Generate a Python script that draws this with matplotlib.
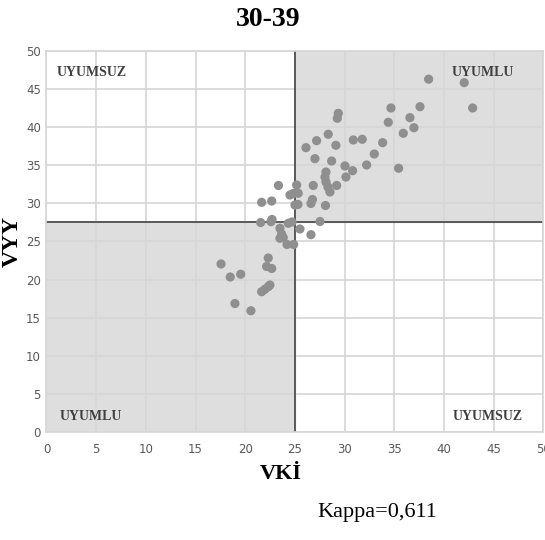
import matplotlib.pyplot as plt
from matplotlib.patches import Rectangle

# VKİ ve VYY değerleri (30-39 yaş grubu)
vki = [38.45, 42.03, 42.88, 34.66, 37.58, 36.57, 34.39, 36.97, 35.90, 33.82,
       32.98, 32.21, 30.87, 31.77, 30.03, 30.80, 30.13, 35.43, 29.36, 29.26,
       28.35, 27.18, 26.11, 29.12, 27.01, 28.69, 28.12, 28.02, 28.12, 28.32,
       28.52, 29.20, 26.84, 25.17, 23.34, 24.50, 24.83, 25.33, 26.76, 26.61,
       21.65, 22.66, 25.00, 25.30, 28.07, 21.55, 22.59, 22.69, 24.33, 24.70,
       27.52, 23.49, 23.66, 23.82, 23.49, 25.50, 26.61, 24.20, 24.87, 22.31,
       17.56, 18.49, 19.54, 22.15, 22.66, 21.65, 21.98, 22.33, 22.48, 18.96,
       20.57]
vyy = [46.30, 45.84, 42.52, 42.52, 42.69, 41.25, 40.64, 39.93, 39.20, 37.97,
       36.48, 35.04, 38.32, 38.41, 34.91, 34.29, 33.46, 34.61, 41.82, 41.17,
       39.07, 38.23, 37.31, 37.62, 35.87, 35.56, 34.12, 33.46, 32.81, 32.15,
       31.50, 32.35, 32.35, 32.41, 32.35, 31.10, 31.30, 31.33, 30.51, 29.99,
       30.14, 30.31, 29.79, 29.86, 29.72, 27.49, 27.60, 27.89, 27.39, 27.56,
       27.62, 26.73, 25.98, 25.52, 25.42, 26.64, 25.89, 24.61, 24.61, 22.83,
       22.05, 20.34, 20.70, 21.72, 21.46, 18.41, 18.73, 19.09, 19.29, 16.86,
       15.91]

vki_esik = 25
vyy_esik = 27.6
ticks = [0, 5, 10, 15, 20, 25, 30, 35, 40, 45, 50]

serif = ['Liberation Serif', 'DejaVu Serif']

fig = plt.figure(figsize=(5.45, 5.4), dpi=100)
ax = fig.add_axes([0.0853, 0.2, 0.9118, 0.7056])

# uyumlu bölgeler gri
ax.add_patch(Rectangle((0, 0), vki_esik, vyy_esik, color='#dedede', zorder=0))
ax.add_patch(Rectangle((vki_esik, vyy_esik), 50 - vki_esik, 50 - vyy_esik,
                       color='#dedede', zorder=0))

ax.set_xlim(0, 50)
ax.set_ylim(0, 50)
ax.set_xticks(ticks)
ax.set_yticks(ticks)
ax.grid(True, color='#d6d6d6', linewidth=1.2, zorder=1)
for s in ax.spines.values():
    s.set_color('#d6d6d6')
    s.set_linewidth(1.2)
ax.tick_params(length=0, labelsize=8.5, labelcolor='#595959')
ax.tick_params(axis='x', pad=8)
ax.tick_params(axis='y', pad=4)
for lab in ax.get_xticklabels() + ax.get_yticklabels():
    lab.set_family(['Liberation Sans Narrow', 'DejaVu Sans'])

ax.axhline(vyy_esik, color='#595959', linewidth=1.4, zorder=2)
ax.axvline(vki_esik, color='#595959', linewidth=1.4, zorder=2)

ax.scatter(vki, vyy, s=44, color='#8f8f8f', edgecolors='none', zorder=3)

# çeyrek etiketleri
etiket = dict(family=serif, fontsize=10, fontweight='bold', color='#404040',
              va='center', zorder=4)
ax.text(1.05, 47.2, 'UYUMSUZ', ha='left', **etiket)
ax.text(40.8, 47.2, 'UYUMLU', ha='left', **etiket)
ax.text(1.3, 2.0, 'UYUMLU', ha='left', **etiket)
ax.text(40.9, 2.0, 'UYUMSUZ', ha='left', **etiket)

ax.set_xlabel('VKİ', family=serif, fontsize=16, fontweight='bold')
ax.xaxis.set_label_coords(0.472, -0.084)
ax.set_ylabel('VYY', family=serif, fontsize=17, fontweight='bold')
ax.yaxis.set_label_coords(-0.048, 0.5)

fig.text(0.492, 0.964, '30-39', family=serif, fontsize=20, fontweight='bold',
         ha='center', va='center')
fig.text(0.583, 0.05, 'Kappa=0,611', family=serif, fontsize=16,
         ha='left', va='center')

fig.savefig('out.png', dpi=100)
